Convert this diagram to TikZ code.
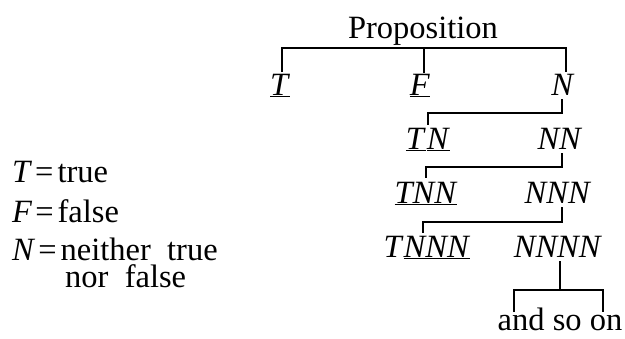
\documentclass[tikz,border=0pt]{standalone}
\usepackage{fontspec}
\setmainfont{Liberation Serif}
\newcommand{\eqsign}{\kern3pt=\kern4pt}
\begin{document}
\begin{tikzpicture}[x=1pt,y=-1pt,
  lbl/.style={inner sep=0pt, anchor=base, font=\fontsize{32.5}{27}\selectfont},
  key/.style={lbl, anchor=base west},
  bracket/.style={line width=1.5pt},
  stem/.style={bracket, shorten <=4pt}]
\useasboundingbox (0,0) rectangle (625,338);

% tree labels
\node[lbl] (prop) at (423,38) {Proposition};
\node[lbl] (t1) at (280,95) {\underline{\textit{T}}};
\node[lbl] (f1) at (420,95) {\underline{\textit{F}}};
\node[lbl] (n1) at (563,95) {\textit{N}};
\node[lbl] (tn) at (428,149) {\underline{\textit{T}}\kern1pt\underline{\textit{N}}};
\node[lbl] (nn) at (560,149) {\textit{NN}};
\node[lbl] (tnn) at (426,203) {\underline{\textit{TNN}}};
\node[lbl] (nnn) at (558,203) {\textit{NNN}};
\node[lbl] (tnnn) at (427,257) {\textit{T}\underline{\textit{NNN}}};
\node[lbl] (nnnn) at (558,257) {\textit{NNNN}};
\node[lbl] (more) at (560,330) {and so on};

% key
\node[key] (kt) at (12,182) {\textit{T}\eqsign true};
\node[key] (kf) at (12,222) {\textit{F}\eqsign false};
\node[key, text depth=1pt] (kn) at (12,260) {\textit{N}\eqsign neither\ \ true};
\node[key, text height=21pt] (kn2) at (65,287) {nor\ \ false};

% bracket junctions and ends
\coordinate (j0) at (424,48);
\coordinate (a0) at (282,72);
\coordinate (b0) at (566,72);
\coordinate (c0) at (424,73);
\coordinate (j1) at (562,113);
\coordinate (a1) at (428,125);
\coordinate (j2) at (562,167);
\coordinate (a2) at (426,178);
\coordinate (j3) at (562,222);
\coordinate (a3) at (423,233);
\coordinate (j4) at (560,290);
\coordinate (a4) at (514,312);
\coordinate (b4) at (603,312);

% brackets
\draw[bracket] (a0) |- (j0) -| (b0);
\draw[bracket] (j0) -- (c0);
\draw[stem] (j1 |- n1.south) -- (j1) -| (a1);
\draw[stem] (j2 |- nn.south) -- (j2) -| (a2);
\draw[stem] (j3 |- nnn.south) -- (j3) -| (a3);
\draw[stem] (j4 |- nnnn.south) -- (j4);
\draw[bracket] (a4) |- (j4) -| (b4);
\end{tikzpicture}
\end{document}
